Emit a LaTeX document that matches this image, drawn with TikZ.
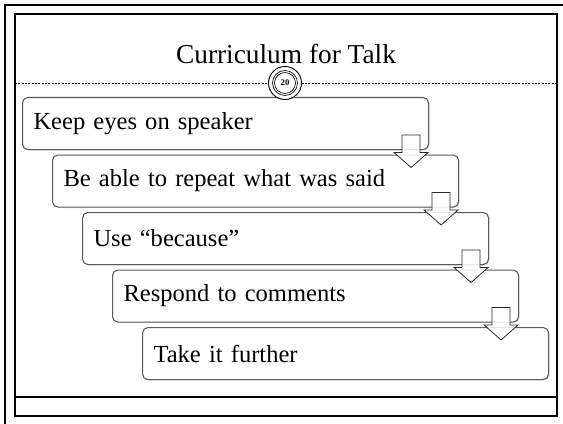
\documentclass[tikz,border=0pt]{standalone}
\usepackage{fontspec}
\setmainfont{Liberation Serif}
\usepackage{tikz}
\usetikzlibrary{calc, positioning, shadows}

\tikzset{
  stepbox/.style={draw={rgb, 255:red, 90; green, 90; blue, 90}, line width=0.8pt, rounded corners=4pt, fill=white,
    anchor=north west, minimum height=39pt, text width=288pt, inner xsep=8.25pt, align=left,
    font=\fontsize{18.4}{22}\selectfont,
    drop shadow={opacity=0.25, shadow xshift=0.8pt, shadow yshift=-0.8pt}},
  downarrow/.style={draw={rgb, 255:red, 40; green, 40; blue, 40}, line width=0.6pt, fill=white, fill opacity=0.85},
}

\begin{document}
\begin{tikzpicture}[x=0.75pt,y=0.75pt,yscale=-1,xscale=1]
\useasboundingbox (0,0) rectangle (563,424);

% Slide frame
\draw [line width=2pt] (5,424) -- (5,5) -- (563,5);
\draw [line width=0.8pt] (15,14) rectangle (557,416);
\draw [line width=0.8pt] (15,397) -- (557,397);

% Title
\node (title) at (286,54) [font=\fontsize{20.5}{24}\selectfont] {Curriculum for Talk};
\draw [dash pattern=on 1.5pt off 1pt, line width=0.5pt] (15,83) -- (557,83);

% Steps
\foreach \i/\txt in {1/Keep eyes on speaker, 2/Be able to repeat what was said, 3/Use “because”, 4/Respond to comments, 5/Take it further}
  \node [stepbox] (s\i) at ({22+30*(\i-1)},{97+57.5*(\i-1)}) {\txt};

% Arrows between steps
\foreach \a/\b in {1/2,2/3,3/4,4/5}
  \draw [downarrow] ($(s\a.south east)+(-27,-15)$) -- ($(s\a.south east)+(-9,-15)$)
    -- ($(s\b.north east)+(-39,-2)$) -- ($(s\b.north east)+(-31,-2)$)
    -- ($(s\b.north east)+(-48,13)$) -- ($(s\b.north east)+(-65,-2)$)
    -- ($(s\b.north east)+(-57,-2)$) -- cycle;

% Page number
\node [circle, draw, line width=0.7pt, fill=white, minimum size=24.75pt, inner sep=0pt,
  font=\fontsize{6.5}{7}\selectfont\bfseries] (pg) at (285,83) {20};
\draw [line width=0.5pt] (pg.center) circle (12.5);
\draw [line width=0.5pt] (pg.center) circle (10.5);

\end{tikzpicture}
\end{document}
